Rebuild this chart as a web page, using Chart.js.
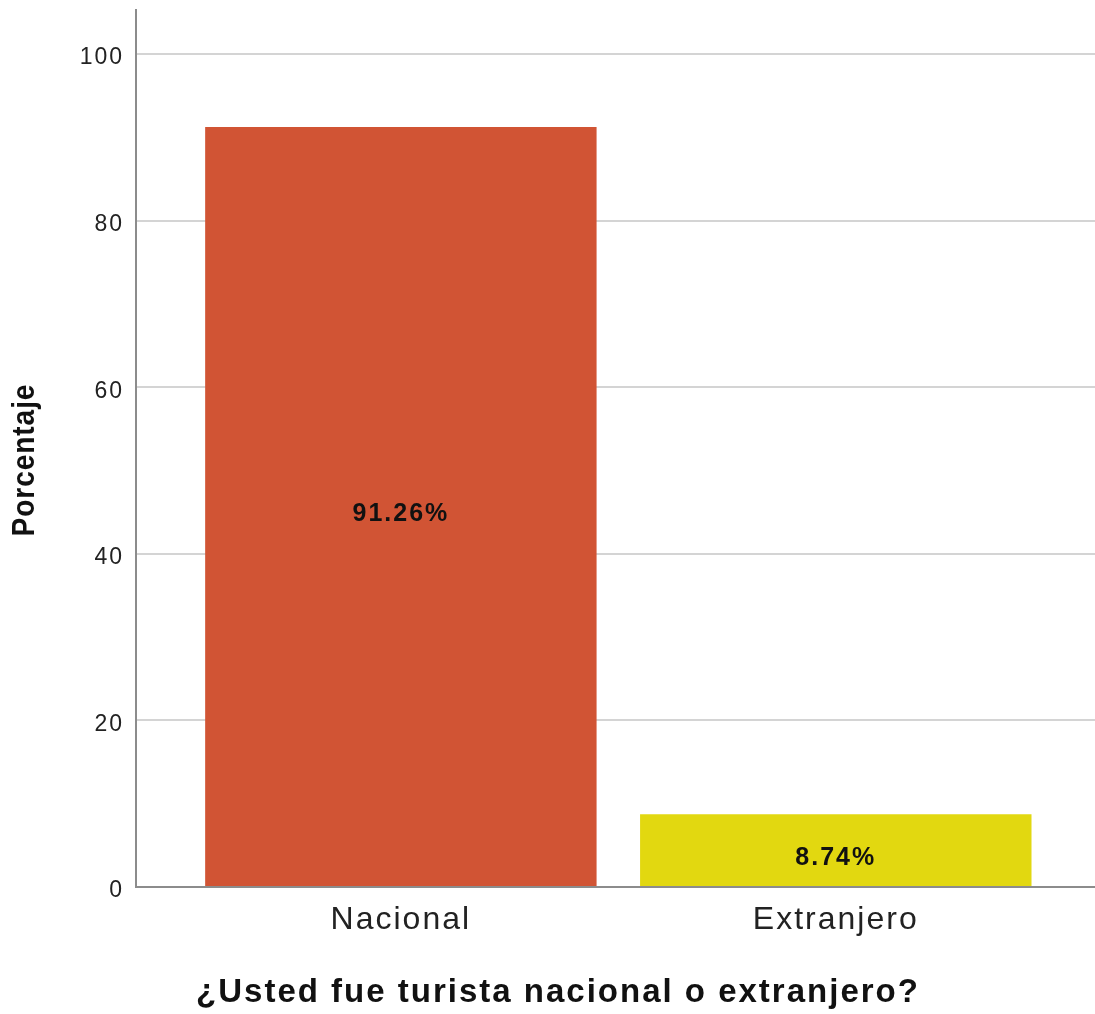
<!DOCTYPE html>
<html>
<head>
<meta charset="utf-8">
<script src="https://cdn.jsdelivr.net/npm/chart.js@4.4.1/dist/chart.umd.min.js"></script>
<style>
    html, body { margin: 0; padding: 0; background: #fff; }
    #wrap { width: 1095px; height: 1014px; }
</style>
</head>
<body>
<div id="wrap"><canvas id="chart" width="1095" height="1014"></canvas></div>
<script>
const categories = ['Nacional', 'Extranjero'];
const percentages = [91.26, 8.74];
const barColors = ['#d15434', '#e2d810'];
const yTicks = [0, 20, 40, 60, 80, 100];
const yTitle = 'Porcentaje';
const xTitle = '¿Usted fue turista nacional o extranjero?';

const SANS = "'Liberation Sans', Arial, sans-serif";

// SPSS-style output draws its text slightly spaced out
const spacing = {
    id: 'spacing',
    beforeLayout: function(chart) { chart.ctx.letterSpacing = '2px'; },
    beforeDraw: function(chart) { chart.ctx.letterSpacing = '2px'; }
};

// percentage label in the middle of each bar
const barLabels = {
    id: 'barLabels',
    afterDatasetsDraw: function(chart) {
        const ctx = chart.ctx;
        const meta = chart.getDatasetMeta(0);
        ctx.save();
        ctx.font = 'bold 25px ' + SANS;
        ctx.fillStyle = '#111';
        ctx.textAlign = 'center';
        ctx.textBaseline = 'middle';
        meta.data.forEach((bar, i) => {
            const p = bar.getProps(['x', 'y', 'base'], true);
            ctx.fillText(percentages[i].toFixed(2) + '%', p.x, (p.y + p.base) / 2 + 8);
        });
        ctx.restore();
    }
};

// axis titles
const axisTitles = {
    id: 'axisTitles',
    afterDraw: function(chart) {
        const ctx = chart.ctx;
        ctx.save();
        ctx.fillStyle = '#111';
        ctx.textAlign = 'center';
        ctx.textBaseline = 'middle';
        ctx.font = 'bold 33px ' + SANS;
        ctx.fillText(xTitle, 558, 993);
        // narrow bold look for the vertical title
        ctx.translate(25, 460);
        ctx.rotate(-Math.PI / 2);
        ctx.scale(0.88, 1);
        ctx.letterSpacing = '1px';
        ctx.font = 'bold 32px ' + SANS;
        ctx.fillText(yTitle, 0, 0);
        ctx.restore();
    }
};

Chart.defaults.font.family = SANS;

new Chart(document.getElementById('chart').getContext('2d'), {
    type: 'bar',
    plugins: [spacing, barLabels, axisTitles],
    data: {
        datasets: [{
            data: percentages.map((v, i) => ({ x: i, y: v })),
            backgroundColor: barColors,
            borderWidth: 0,
            categoryPercentage: 1,
            barPercentage: 0.9
        }]
    },
    options: {
        responsive: false,
        devicePixelRatio: 1,
        animation: false,
        layout: { padding: { top: 10, right: 0, bottom: 0, left: 0 } },
        plugins: {
            legend: { display: false },
            tooltip: { enabled: false }
        },
        scales: {
            x: {
                type: 'linear',
                offset: false,
                min: -0.609,
                max: 1.596,
                afterBuildTicks: function(scale) {
                    scale.ticks = categories.map((_, i) => ({ value: i }));
                },
                afterFit: function(scale) {
                    scale.height = 127;
                    scale.paddingLeft = 0;
                    scale.paddingRight = 0;
                },
                ticks: {
                    callback: function(value) { return categories[value]; },
                    color: '#222',
                    font: { size: 32 },
                    padding: 14,
                    maxRotation: 0,
                    autoSkip: false
                },
                grid: { display: false, drawTicks: false },
                border: { color: '#8c8c8c', width: 2 }
            },
            y: {
                min: 0,
                max: 105.3,
                afterBuildTicks: function(scale) {
                    scale.ticks = yTicks.map(v => ({ value: v }));
                },
                afterFit: function(scale) {
                    scale.width = 136;
                    scale.paddingTop = 0;
                    scale.paddingBottom = 0;
                },
                ticks: {
                    color: '#222',
                    font: { size: 23 },
                    padding: 12,
                    labelOffset: 4
                },
                grid: { color: '#d4d4d4', lineWidth: 2, drawTicks: false },
                border: { color: '#8c8c8c', width: 2 }
            }
        }
    }
});
</script>
</body>
</html>
